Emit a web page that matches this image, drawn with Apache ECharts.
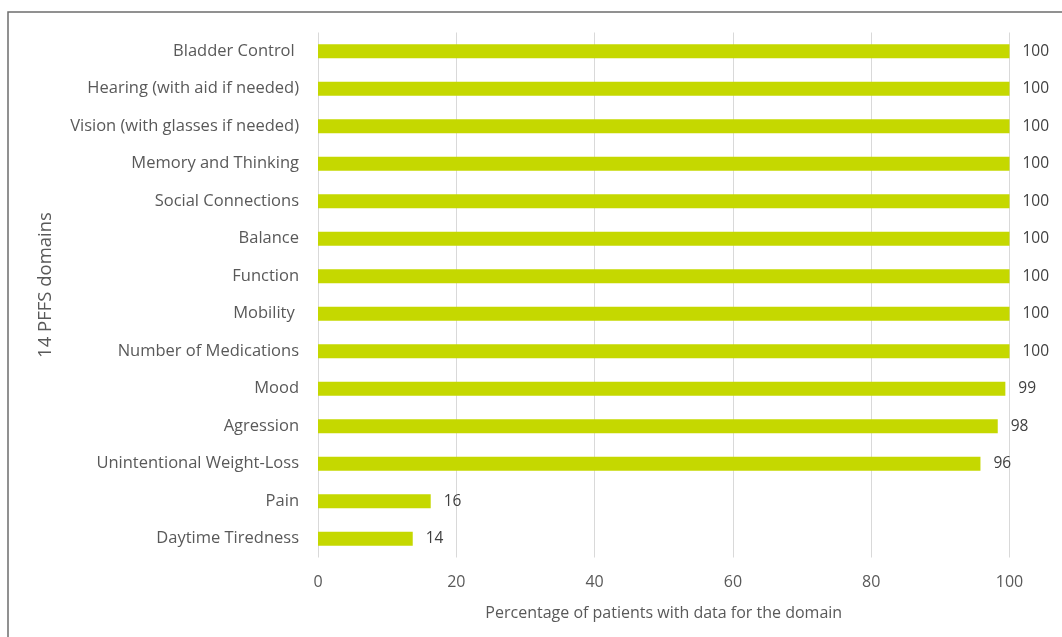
<!DOCTYPE html>
<html>
<head>
<meta charset="utf-8">
<script src="https://cdn.jsdelivr.net/npm/echarts@6/dist/echarts.min.js"></script>
<style>html,body{margin:0;padding:0;background:#fff}#c{width:1062px;height:637px}</style>
</head>
<body>
<div id="c"></div>
<script>
const categories = ["Daytime Tiredness","Pain","Unintentional Weight-Loss","Agression","Mood","Number of Medications","Mobility ","Function","Balance","Social Connections","Memory and Thinking","Vision (with glasses if needed)","Hearing (with aid if needed)","Bladder Control "];
const values = [13.7, 16.3, 95.8, 98.3, 99.4, 100, 100, 100, 100, 100, 100, 100, 100, 100];
const xTicks = [0, 20, 40, 60, 80, 100];
const xAxisTitle = "Percentage of patients with data for the domain";
const yAxisTitle = "14 PFFS domains";

const chart = echarts.init(document.getElementById('c'), null, {renderer: 'canvas'});
const font = '"Open Sans", sans-serif';
chart.setOption({
  animation: false,
  grid: {left: 318, right: 1062 - 1009.5, top: 32.5, bottom: 637 - 557.5, containLabel: false},
  graphic: [{
    type: 'rect', shape: {x: 8, y: 12, width: 1200, height: 800},
    style: {fill: 'none', stroke: '#6e6e6e', lineWidth: 1.5}, z: -1
  }],
  xAxis: {
    type: 'value', min: xTicks[0], max: xTicks[xTicks.length - 1], interval: 20,
    name: xAxisTitle, nameLocation: 'middle', nameGap: 48,
    nameTextStyle: {fontFamily: font, fontSize: 16, color: '#595959'},
    axisLine: {show: false}, axisTick: {show: false},
    axisLabel: {fontFamily: font, fontSize: 16, color: '#595959', margin: 17},
    splitLine: {show: true, lineStyle: {color: '#d9d9d9', width: 1}}
  },
  yAxis: {
    type: 'category', data: categories,
    name: yAxisTitle, nameLocation: 'middle', nameGap: 263,
    nameTextStyle: {fontFamily: font, fontSize: 18.5, color: '#595959', padding: [0, 0, 0, 20]},
    axisLine: {show: false}, axisTick: {show: false},
    axisLabel: {fontFamily: font, fontSize: 16.5, color: '#595959', margin: 19}
  },
  series: [{
    type: 'bar', data: values, barWidth: 14,
    itemStyle: {color: '#c5d800'},
    label: {show: true, position: 'right', distance: 13, fontFamily: font, fontSize: 15.5, color: '#404040',
      formatter: p => Math.round(p.value)}
  }]
});
</script>
</body>
</html>
